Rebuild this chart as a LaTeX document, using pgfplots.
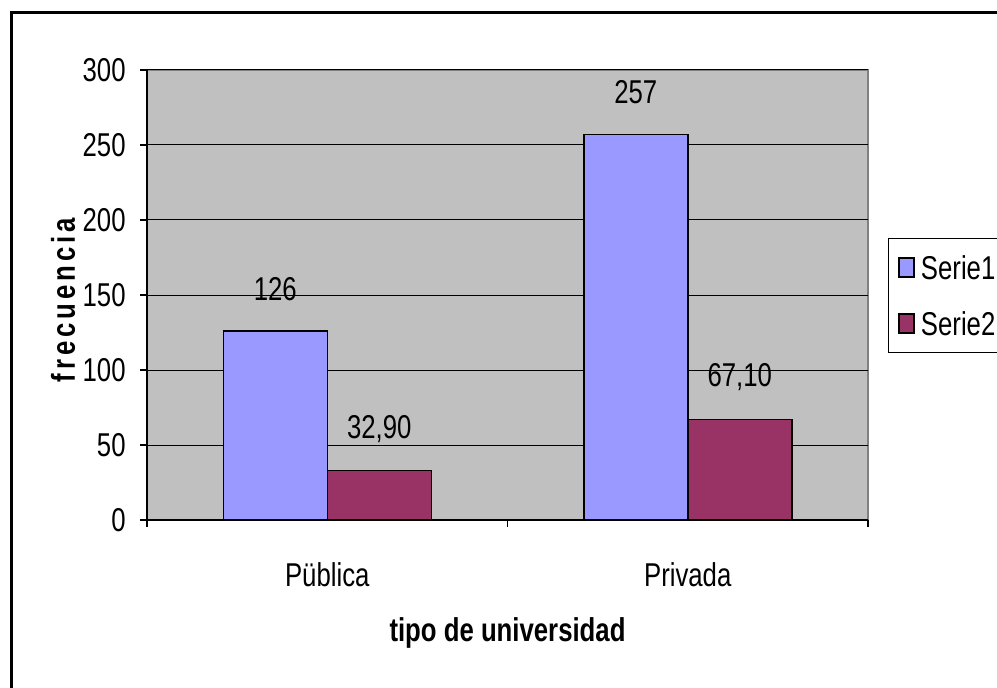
\documentclass[border=0pt]{standalone}
\usepackage{fontspec}
\setmainfont{Liberation Sans}[FakeStretch=0.78]
\usepackage{pgfplots}
\pgfplotsset{compat=1.18}
\definecolor{plotgray}{HTML}{C0C0C0}
\definecolor{edgegray}{HTML}{808080}
\definecolor{serieA}{HTML}{9999FF}
\definecolor{serieB}{HTML}{993366}

\begin{document}
\begin{tikzpicture}[x=1pt,y=1pt,font=\fontsize{16.5}{19}\selectfont]
\useasboundingbox (0,0) rectangle (498.5,343.5);
% outer chart frame (runs off the right and bottom edges)
\draw[line width=1.5pt] (5.75,-20) -- (5.75,337.25) -- (540,337.25);
\begin{axis}[
  at={(73.5pt,83.5pt)}, anchor=south west,
  scale only axis, width=360.5pt, height=225pt,
  xmin=-0.5, xmax=1.5, ymin=0, ymax=300,
  ybar=0pt, bar width=52pt,
  every axis plot/.append style={
    legend image code/.code={\draw[#1, line width=0.75pt] (0pt,-4.75pt) rectangle (7.5pt,4.75pt);}},
  axis x line*=bottom, axis y line*=left,
  axis line style={black, line width=0.75pt, -},
  axis background/.style={fill=plotgray, draw=edgegray, line width=1pt},
  ytick={0,50,...,300}, ymajorgrids, grid style={black, line width=0.5pt},
  xtick={-0.5,0.5,1.5}, xticklabels={},
  extra x ticks={0,1}, extra x tick labels={Püblica,Privada},
  extra x tick style={major tick length=0pt, xmajorgrids=false,
    tick label style={anchor=base, yshift=-33pt}},
  tick align=outside, major tick length=3.5pt,
  tick style={black, line width=0.75pt},
  yticklabel style={anchor=east, inner sep=0pt, xshift=-7pt},
  /pgf/number format/assume math mode=true,
  xlabel={\bfseries tipo de universidad},
  ylabel={\bfseries\addfontfeatures{LetterSpace=12}frecuencia},
  every axis x label/.style={at={(axis description cs:0.5,-0.251)}, anchor=center},
  every axis y label/.style={at={(axis description cs:-0.1165,0.489)}, anchor=center, rotate=90},
  every node near coord/.append style={anchor=center, yshift=21pt, black},
  legend entries={Serie1, Serie2},
  legend cell align=left,
  legend style={at={(1.0277,0.6267)}, anchor=north west, draw=black, line width=0.5pt,
    fill=white, inner xsep=5pt, inner ysep=8.5pt, row sep=16pt,
    nodes={inner sep=0pt, text height=12pt, text depth=0pt},
    /tikz/every odd column/.append style={column sep=3pt}},
]
\addplot[fill=serieA, draw=black, line width=0.75pt, nodes near coords]
  coordinates {(0,126) (1,257)};
\addplot[fill=serieB, draw=black, line width=0.75pt,
  nodes near coords={\pgfmathprintnumber[assume math mode=true, use comma, fixed, fixed zerofill, precision=2]{\pgfplotspointmeta}}]
  coordinates {(0,32.9) (1,67.1)};
\end{axis}
\end{tikzpicture}
\end{document}
